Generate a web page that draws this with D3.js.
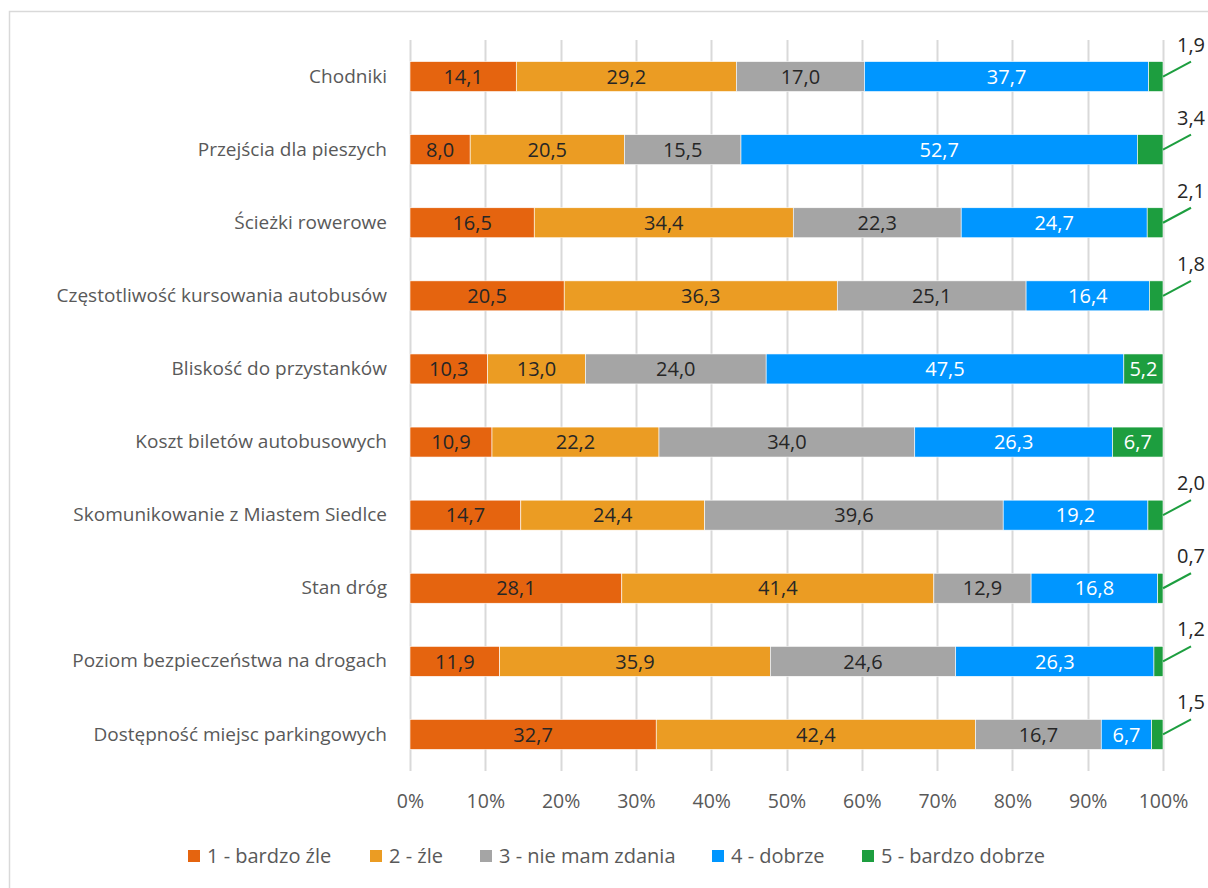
<!DOCTYPE html>
<html>
<head>
<meta charset="utf-8">
<script src="https://cdn.jsdelivr.net/npm/d3@7"></script>
<style>
  body { margin: 0; background: #fff; }
  svg { display: block; font-family: "Open Sans", sans-serif; }
</style>
</head>
<body>
<div id="chart"></div>
<script>
// Data
var categories = [
  "Chodniki",
  "Przejścia dla pieszych",
  "Ścieżki rowerowe",
  "Częstotliwość kursowania autobusów",
  "Bliskość do przystanków",
  "Koszt biletów autobusowych",
  "Skomunikowanie z Miastem Siedlce",
  "Stan dróg",
  "Poziom bezpieczeństwa na drogach",
  "Dostępność miejsc parkingowych"
];
var seriesNames = ["1 - bardzo źle", "2 - źle", "3 - nie mam zdania", "4 - dobrze", "5 - bardzo dobrze"];
var bardzoZle   = [14.1, 8.0, 16.5, 20.5, 10.3, 10.9, 14.7, 28.1, 11.9, 32.7];
var zle         = [29.2, 20.5, 34.4, 36.3, 13.0, 22.2, 24.4, 41.4, 35.9, 42.4];
var nieMamZdania = [17.0, 15.5, 22.3, 25.1, 24.0, 34.0, 39.6, 12.9, 24.6, 16.7];
var dobrze      = [37.7, 52.7, 24.7, 16.4, 47.5, 26.3, 19.2, 16.8, 26.3, 6.7];
var bardzoDobrze = [1.9, 3.4, 2.1, 1.8, 5.2, 6.7, 2.0, 0.7, 1.2, 1.5];
var tickLabels = ["0%", "10%", "20%", "30%", "40%", "50%", "60%", "70%", "80%", "90%", "100%"];

var colors = ["#e5640f", "#eb9c23", "#a5a5a5", "#0096ff", "#1d9e3f"];
var labelColors = ["#262626", "#262626", "#262626", "#ffffff", "#ffffff"];

var svgWidth = 1208;
var svgHeight = 888;
var margin = { top: 40, right: 45, bottom: 117, left: 410 };
var width = svgWidth - margin.left - margin.right;
var height = svgHeight - margin.top - margin.bottom;

var svg = d3.select("#chart")
  .append("svg")
  .attr("width", svgWidth)
  .attr("height", svgHeight);

// outer border (cut off at right/bottom like the source)
svg.append("rect")
  .attr("x", 9.5)
  .attr("y", 11.5)
  .attr("width", 1220)
  .attr("height", 900)
  .attr("fill", "none")
  .attr("stroke", "#d9d9d9")
  .attr("stroke-width", 1.5);

var chartGroup = svg.append("g")
  .attr("transform", `translate(${margin.left}, ${margin.top})`);

// Build rows
var allSeries = [bardzoZle, zle, nieMamZdania, dobrze, bardzoDobrze];
var rows = categories.map(function (c, i) {
  var row = { cat: c };
  seriesNames.forEach(function (s, j) { row[s] = allSeries[j][i]; });
  return row;
});

var stack = d3.stack().keys(seriesNames).offset(d3.stackOffsetExpand);
var stacked = stack(rows);

var xScale = d3.scaleLinear().domain([0, 1]).range([0, width]);
var yScale = d3.scaleBand().domain(categories).range([0, height]).paddingInner(0.59).paddingOuter(0.295);

// gridlines
chartGroup.selectAll(".grid")
  .data(d3.range(0, 1.0001, 0.1))
  .enter()
  .append("line")
  .attr("x1", d => Math.round(xScale(d)) + 0.5)
  .attr("x2", d => Math.round(xScale(d)) + 0.5)
  .attr("y1", 0)
  .attr("y2", height)
  .attr("stroke", "#d9d9d9")
  .attr("stroke-width", 2);

// x axis
var xAxis = d3.axisBottom(xScale)
  .tickValues(d3.range(0, 11).map(d => d / 10))
  .tickFormat((d, i) => tickLabels[i])
  .tickSize(0)
  .tickPadding(23);
var xg = chartGroup.append("g")
  .attr("transform", `translate(0, ${height})`)
  .call(xAxis);
xg.select(".domain").remove();
xg.selectAll("text")
  .attr("font-family", "Open Sans, sans-serif")
  .attr("font-size", "19.5px")
  .attr("fill", "#595959");

// y axis (category labels)
var yAxis = d3.axisLeft(yScale).tickSize(0).tickPadding(23);
var yg = chartGroup.append("g").call(yAxis);
yg.select(".domain").remove();
yg.selectAll("text")
  .attr("font-family", "Open Sans, sans-serif")
  .attr("font-size", "19px")
  .attr("fill", "#595959");

// bars
var layers = chartGroup.selectAll(".layer")
  .data(stacked)
  .enter()
  .append("g")
  .attr("fill", (d, i) => colors[i]);

layers.selectAll("rect")
  .data(d => d)
  .enter()
  .append("rect")
  .attr("x", d => xScale(d[0]))
  .attr("y", d => yScale(d.data.cat))
  .attr("width", d => xScale(d[1]) - xScale(d[0]))
  .attr("height", yScale.bandwidth())
  .attr("stroke", "#ffffff")
  .attr("stroke-width", 0.6);

// value labels
stacked.forEach(function (layer, j) {
  layer.forEach(function (d, i) {
    var v = allSeries[j][i];
    var label = v.toFixed(1).replace(".", ",");
    var cy = yScale(d.data.cat) + yScale.bandwidth() / 2;
    if (j === 4 && v < 4) {
      var x0 = xScale(1);
      chartGroup.append("line")
        .attr("x1", x0)
        .attr("y1", cy)
        .attr("x2", x0 + 28)
        .attr("y2", cy - 15)
        .attr("stroke", colors[4])
        .attr("stroke-width", 2);
      chartGroup.append("text")
        .attr("x", x0 + 28)
        .attr("y", cy - 25)
        .attr("text-anchor", "middle")
        .attr("font-size", "20px")
        .attr("fill", "#262626")
        .text(label);
    } else {
      chartGroup.append("text")
        .attr("x", (xScale(d[0]) + xScale(d[1])) / 2)
        .attr("y", cy)
        .attr("dy", "0.36em")
        .attr("text-anchor", "middle")
        .attr("font-size", "20px")
        .attr("fill", labelColors[j])
        .text(label);
    }
  });
});

// legend
var legendX = [188, 370, 480, 712, 862];
var legend = svg.append("g").attr("transform", "translate(0, 856)");
seriesNames.forEach(function (s, i) {
  legend.append("rect")
    .attr("x", legendX[i])
    .attr("y", -6)
    .attr("width", 12)
    .attr("height", 12)
    .attr("fill", colors[i]);
  legend.append("text")
    .attr("x", legendX[i] + 19)
    .attr("y", 0)
    .attr("dy", "0.36em")
    .attr("font-size", "20px")
    .attr("fill", "#595959")
    .text(s);
});
</script>
</body>
</html>
